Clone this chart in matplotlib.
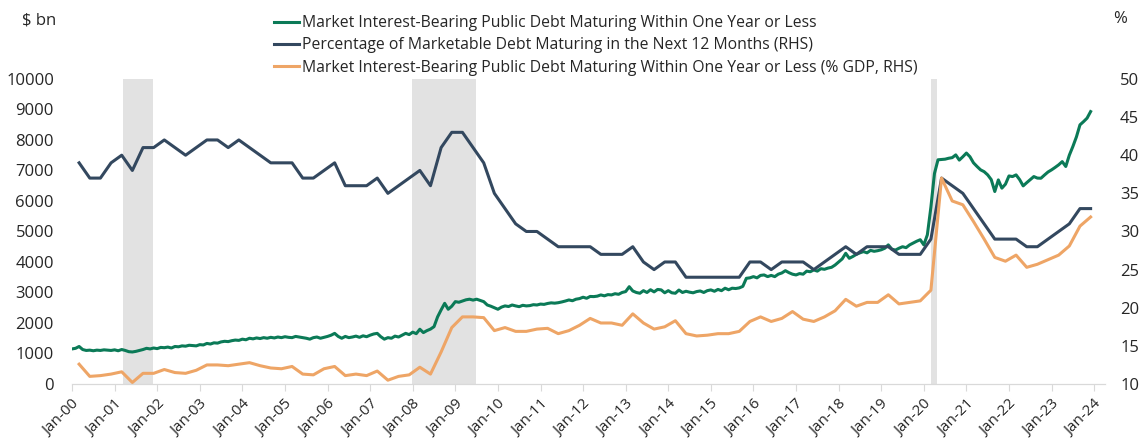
import numpy as np
import matplotlib
matplotlib.use("Agg")
import matplotlib.pyplot as plt

plt.rcParams['font.family'] = ['Open Sans', 'DejaVu Sans']

# ---- data ----
first_year = 2000
n_years = 24

# Market interest-bearing public debt maturing within one year or less, $ bn (monthly)
debt_1y_bn = [
    1150, 1170, 1230, 1130, 1100, 1110, 1090, 1110, 1100, 1120, 1110, 1100,  # 2000
    1120, 1090, 1130, 1100, 1060, 1050, 1070, 1100, 1130, 1170, 1150, 1180,  # 2001
    1160, 1200, 1190, 1210, 1180, 1230, 1220, 1250, 1240, 1270, 1260, 1250,  # 2002
    1290, 1280, 1330, 1310, 1350, 1340, 1380, 1400, 1390, 1420, 1440, 1430,  # 2003
    1470, 1450, 1500, 1480, 1510, 1490, 1520, 1500, 1530, 1510, 1540, 1520,  # 2004
    1550, 1530, 1520, 1560, 1540, 1520, 1500, 1470, 1520, 1540, 1500, 1530,  # 2005
    1560, 1600, 1660, 1560, 1500, 1560, 1520, 1540, 1570, 1530, 1580, 1550,  # 2006
    1600, 1640, 1660, 1550, 1470, 1520, 1500, 1570, 1540, 1600, 1660, 1620,  # 2007
    1700, 1650, 1795, 1685, 1750, 1800, 1880, 2200, 2430, 2645, 2450, 2550,  # 2008
    2700, 2680, 2720, 2760, 2780, 2750, 2780, 2740, 2700, 2590, 2550, 2500,  # 2009
    2450, 2520, 2560, 2540, 2590, 2560, 2535, 2580, 2560, 2570, 2600, 2590,  # 2010
    2620, 2610, 2640, 2660, 2650, 2665, 2690, 2720, 2755, 2730, 2780, 2800,  # 2011
    2845, 2810, 2870, 2865, 2880, 2920, 2890, 2930, 2920, 2960, 2940, 3000,  # 2012
    3030, 3190, 3050, 3000, 2975, 3060, 3000, 3090, 3020, 3100, 3085, 2990,  # 2013
    3060, 2990, 2975, 3080, 3000, 3040, 3010, 2990, 3030, 3050, 3000, 3060,  # 2014
    3085, 3040, 3100, 3060, 3140, 3090, 3140, 3130, 3150, 3200, 3465, 3480,  # 2015
    3520, 3480, 3560, 3575, 3520, 3560, 3520, 3600, 3640, 3715, 3650, 3600,  # 2016
    3575, 3620, 3600, 3700, 3680, 3740, 3700, 3780, 3760, 3800, 3825, 3900,  # 2017
    4000, 4100, 4285, 4120, 4180, 4250, 4300, 4340, 4300, 4380, 4350, 4370,  # 2018
    4400, 4450, 4560, 4420, 4390, 4450, 4500, 4470, 4560, 4620, 4680, 4730,  # 2019
    4560, 4890, 5800, 6900, 7350, 7360, 7370, 7400, 7420, 7510, 7340, 7450,  # 2020
    7570, 7450, 7250, 7130, 7020, 6960, 6855, 6700, 6310, 6690, 6420, 6550,  # 2021
    6820, 6800, 6855, 6700, 6495, 6600, 6700, 6800, 6750, 6745, 6850, 6950,  # 2022
    7020, 7100, 7185, 7290, 7130, 7500, 7785, 8100, 8495, 8600, 8715, 8930,  # 2023
]

# Percentage of marketable debt maturing in the next 12 months, % (quarterly)
pct_next_12m = [
    39, 37, 37, 39,  40, 38, 41, 41,  42, 41, 40, 41,  42, 42, 41, 42,
    41, 40, 39, 39,  39, 37, 37, 38,  39, 36, 36, 36,  37, 35, 36, 37,
    38, 36, 41, 43,  43, 41, 39, 35,  33, 31, 30, 30,  29, 28, 28, 28,
    28, 27, 27, 27,  28, 26, 25, 26,  26, 24, 24, 24,  24, 24, 24, 26,
    26, 25, 26, 26,  26, 25, 26, 27,  28, 27, 28, 28,  28, 27, 27, 27,
    29, 37, 36, 35,  33, 31, 29, 29,  29, 28, 28, 29,  30, 31, 33, 33,
]

# Debt maturing within one year or less, % of GDP (quarterly)
pct_gdp = [
    12.6, 11.0, 11.1, 11.3,  11.6, 10.2, 11.4, 11.4,  11.9, 11.5, 11.4, 11.8,
    12.5, 12.5, 12.4, 12.6,  12.8, 12.4, 12.1, 12.0,  12.3, 11.3, 11.2, 12.0,
    12.3, 11.1, 11.3, 11.1,  11.7, 10.5, 11.0, 11.2,  12.2, 11.3, 14.2, 17.4,
    18.8, 18.8, 18.7, 17.0,  17.4, 16.9, 16.9, 17.2,  17.3, 16.6, 17.0, 17.7,
    18.6, 18.0, 18.0, 17.7,  19.2, 18.0, 17.2, 17.5,  18.3, 16.6, 16.3, 16.4,
    16.6, 16.6, 16.9, 18.2,  18.8, 18.2, 18.6, 19.5,  18.5, 18.2, 18.8, 19.6,
    21.1, 20.2, 20.7, 20.7,  21.7, 20.5, 20.7, 20.9,  22.3, 37.0, 34.0, 33.5,
    31.3, 29.0, 26.6, 26.1,  26.9, 25.3, 25.7, 26.3,  26.9, 28.1, 30.7, 31.9,
]

# US recessions (start, end) in years since Jan-2000
recessions = [(1.2, 1.9), (7.98, 9.48), (20.16, 20.3)]

labels = [
    "Market Interest-Bearing Public Debt Maturing Within One Year or Less",
    "Percentage of Marketable Debt Maturing in the Next 12 Months (RHS)",
    "Market Interest-Bearing Public Debt Maturing Within One Year or Less (% GDP, RHS)",
]
tick_labels = ["Jan-%02d" % (y % 100) for y in range(first_year, first_year + n_years + 1)]

# ---- x positions ----
x_month = np.arange(len(debt_1y_bn)) / 12.0
x_quarter = np.array([y + (3 * q + 2) / 12.0 for y in range(n_years) for q in range(4)])

green = "#0b7a57"
navy = "#33485f"
orange = "#eea566"
grey_txt = "#262626"

fig = plt.figure(figsize=(11.45, 4.46), dpi=100)
ax = fig.add_axes([0.0629, 0.139, 0.902, 0.684])
ax2 = ax.twinx()

for a, b in recessions:
    ax.axvspan(a, b, color="#e2e2e2", lw=0, zorder=0)

l1, = ax.plot(x_month, debt_1y_bn, color=green, lw=2.2, zorder=3)
l2, = ax2.plot(x_quarter, pct_next_12m, color=navy, lw=2.2)
l3, = ax2.plot(x_quarter, pct_gdp, color=orange, lw=2.2)

ax.set_xlim(0, 24.25)
ax.set_ylim(0, 10000)
ax.set_yticks(np.arange(0, 10001, 1000))
ax2.set_ylim(10, 50)
ax2.set_yticks(np.arange(10, 51, 5))

ax.set_xticks(np.arange(0, n_years + 1))
ax.set_xticklabels(tick_labels, rotation=45, ha="right", rotation_mode="anchor",
                   fontsize=11, color=grey_txt)
ax.tick_params(axis="x", length=5, color="#d9d9d9", pad=4)
ax.tick_params(axis="y", length=0, pad=13, labelsize=12, labelcolor=grey_txt)
ax2.tick_params(axis="y", length=0, pad=11, labelsize=12, labelcolor=grey_txt)

for a in (ax, ax2):
    for s in ("top", "left", "right"):
        a.spines[s].set_visible(False)
    a.spines["bottom"].set_color("#d9d9d9")

fig.text(0.019, 0.955, "$ bn", fontsize=12, color=grey_txt, va="center")
fig.text(0.972, 0.958, "%", fontsize=12, color=grey_txt, va="center")

fig.legend([l1, l2, l3], labels, loc="upper left", bbox_to_anchor=(0.227, 0.998),
           frameon=False, fontsize=11.3, handlelength=1.6, handletextpad=0.15,
           labelspacing=0.4, labelcolor=grey_txt)

fig.savefig("out.png", dpi=100)
